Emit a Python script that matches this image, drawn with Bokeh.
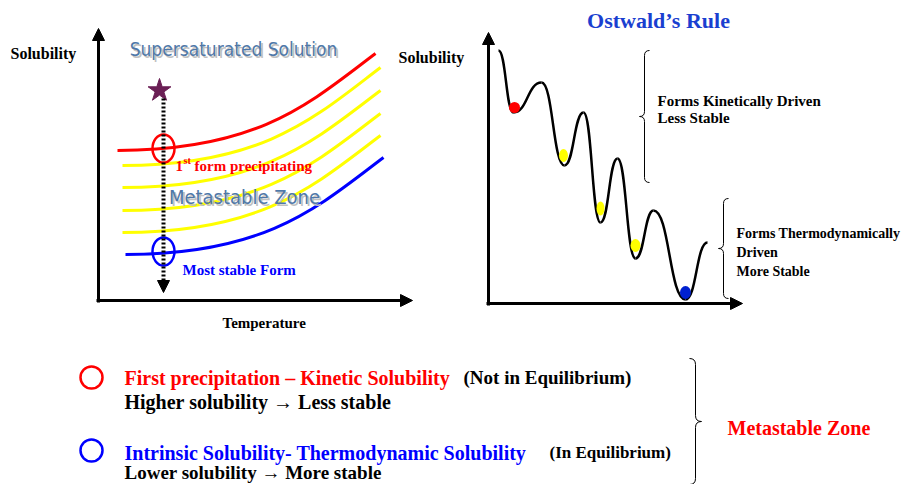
from bokeh.plotting import figure
from bokeh.models import Arrow, NormalHead, Label
from bokeh.embed import file_html
from bokeh.resources import INLINE

SERIF = "Liberation Serif"
NARROW = "DejaVu Sans Condensed"

# --- left diagram: solubility curves (start, end, control points) ---
curve_colors = ["red", "yellow", "yellow", "yellow", "yellow", "blue"]
curve_x0 = [117, 122, 122, 122, 122, 125]
curve_y0 = [150, 165, 187, 210, 232, 254]
curve_x1 = [375, 380, 380, 380, 380, 383]
curve_y1 = [53, 67, 90, 113, 135, 157]

# --- right diagram: energy landscape extrema ---
wave_x = [498, 513, 541, 564, 583, 600, 617, 635, 653, 685, 707]
wave_y = [50, 112, 82, 165, 112, 222, 158, 258, 210, 299, 242]
ball_x = [514, 563, 600, 635, 685]
ball_y = [107, 155, 208, 245, 292]
ball_w = [11, 9, 8, 10, 11]
ball_h = [11, 13, 14, 13, 13]
ball_colors = ["red", "yellow", "yellow", "yellow", "#0020d0"]

p = figure(width=909, height=484, x_range=(0, 909), y_range=(484, 0),
           output_backend="svg", toolbar_location=None, tools="")
p.axis.visible = False
p.grid.visible = False
p.outline_line_color = None
p.min_border = 0

def arrow(x0, y0, x1, y1, w=3, dash="solid"):
    p.add_layout(Arrow(end=NormalHead(size=12, fill_color="black", line_color="black"),
                       x_start=x0, y_start=y0, x_end=x1, y_end=y1,
                       line_width=w, line_dash=dash))

def label(x, y, t, size, color="black", font=SERIF, style="bold", align="left"):
    p.add_layout(Label(x=x, y=y, text=t, text_font_size=f"{size}px", text_color=color,
                       text_font=font, text_font_style=style, text_align=align,
                       text_baseline="middle"))

# left axes
arrow(98, 302, 98, 28)
arrow(96, 300, 412, 300)

cx0 = [x + (e - x) * 0.55 for x, e in zip(curve_x0, curve_x1)]
cx1 = [x + (e - x) * 0.75 for x, e in zip(curve_x0, curve_x1)]
cy1 = [s - (s - e) * 0.5 for s, e in zip(curve_y0, curve_y1)]
p.bezier(x0=curve_x0, y0=curve_y0, x1=curve_x1, y1=curve_y1,
         cx0=cx0, cy0=curve_y0, cx1=cx1, cy1=cy1, line_color=curve_colors, line_width=3)

arrow(163, 98, 163, 292, w=4, dash="2 2")
p.scatter([159], [90], marker="star", size=24, color="#6b1f55")
p.ellipse([163, 163], [148, 251], width=22, height=28, fill_color=None,
          line_color=["red", "blue"], line_width=2.5)

label(235, 50, "Supersaturated Solution", 19, "#c0c0c0", NARROW, "normal", "center")
label(233, 48, "Supersaturated Solution", 19, "#4f78a8", NARROW, "normal", "center")
label(246, 198, "Metastable Zone", 20, "#c0c0c0", NARROW, "normal", "center")
label(244, 196, "Metastable Zone", 20, "#4f78a8", NARROW, "normal", "center")
label(175, 165, "1", 15, "red")
label(183, 160, "st", 10, "red")
label(194, 165, "form precipitating", 15, "red")
label(182, 269, "Most stable Form", 15, "blue")
label(10, 53, "Solubility", 16)
label(222, 322, "Temperature", 15)

# right axes
arrow(488, 305, 488, 32)
arrow(486, 303, 742, 303)

# chained cubic segments with flat tangents at the extrema
wx0, wy0, wx1, wy1 = wave_x[:-1], wave_y[:-1], wave_x[1:], wave_y[1:]
wcx0 = [a + (b - a) * 0.5 for a, b in zip(wx0, wx1)]
wcx1 = [b - (b - a) * 0.5 for a, b in zip(wx0, wx1)]
p.bezier(x0=wx0, y0=wy0, x1=wx1, y1=wy1, cx0=wcx0, cy0=wy0, cx1=wcx1, cy1=wy1,
         line_color="black", line_width=2.5)
p.ellipse(ball_x, ball_y, width=ball_w, height=ball_h, fill_color=ball_colors,
          line_color=None)

def brace(xb, y0, y1, w, side):
    ym = (y0 + y1) / 2
    s = side
    p.quadratic(x0=[xb + s * w, xb, xb, xb + s * w], y0=[y0, ym - w, ym + w, y1],
                x1=[xb, xb - s * w, xb - s * w, xb], y1=[y0 + w, ym, ym, y1 - w],
                cx=[xb, xb, xb, xb], cy=[y0, ym, ym, y1], line_color="black", line_width=1)
    p.segment([xb, xb], [y0 + w, ym + w], [xb, xb], [ym - w, y1 - w],
              line_color="black", line_width=1)

brace(644, 50, 182, 5, 1)
brace(723, 198, 298, 5, 1)
brace(695, 358, 484, 6, -1)

label(658, 20, "Ostwald\u2019s Rule", 22, "#1a3fd0", align="center")
label(398, 57, "Solubility", 16)
label(657, 100, "Forms Kinetically Driven", 15)
label(657, 117, "Less Stable", 15)
label(736, 233, "Forms Thermodynamically", 14)
label(736, 252, "Driven", 14)
label(736, 271, "More Stable", 14)

# bottom notes
p.circle([91, 91], [377, 450], radius=11, fill_color=None,
         line_color=["red", "blue"], line_width=2.5)
label(124, 377, "First precipitation \u2013 Kinetic Solubility", 20, "red")
label(463, 377, "(Not in Equilibrium)", 19)
label(124, 401, "Higher solubility \u2192 Less stable", 20)
label(124, 452, "Intrinsic Solubility- Thermodynamic Solubility", 20, "blue")
label(549, 452, "(In Equilibrium)", 17)
label(124, 472, "Lower solubility \u2192 More stable", 19)
label(727, 427, "Metastable Zone", 20, "red")

open("out.html", "w").write(file_html(p, INLINE))
